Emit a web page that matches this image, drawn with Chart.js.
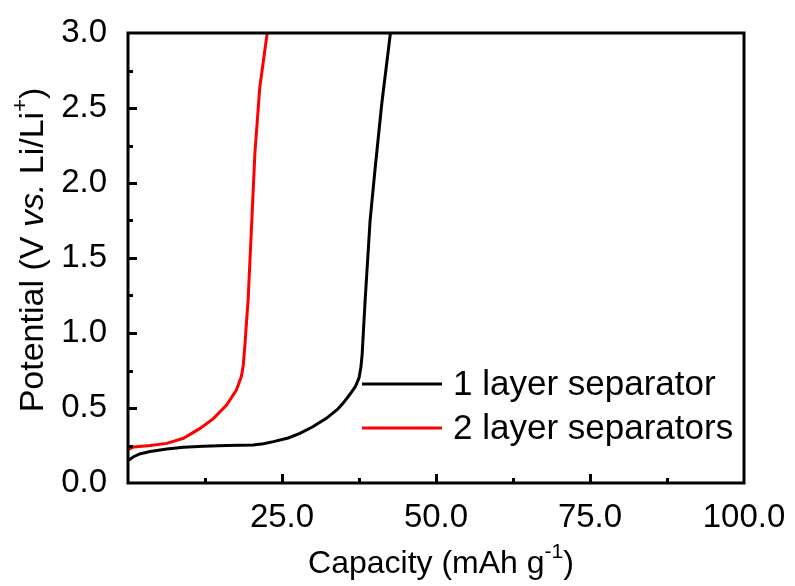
<!DOCTYPE html>
<html>
<head>
<meta charset="utf-8">
<script src="https://cdn.jsdelivr.net/npm/chart.js@4.4.1/dist/chart.umd.min.js"></script>
<style>
  html, body { margin: 0; padding: 0; background: #fff; }
  #wrap { width: 795px; height: 586px; position: relative; }
</style>
</head>
<body>
<div id="wrap"><canvas id="grafico"></canvas></div>
<script>
// datos: capacidad (mAh/g) y potencial (V)
const capacidad1 = [0, 0.9, 2, 3.6, 6.3, 9, 12.2, 16, 20.3, 22, 23.6, 26, 27.9, 30, 32.2, 34, 34.9, 36, 36.9, 37.5, 37.8, 38, 38.2, 38.5, 39.3, 40.1, 41.2, 42.6];
const potencial1 = [0.15, 0.175, 0.195, 0.21, 0.227, 0.238, 0.245, 0.25, 0.253, 0.262, 0.276, 0.3, 0.331, 0.375, 0.431, 0.49, 0.531, 0.59, 0.642, 0.7, 0.77, 0.85, 1.0, 1.22, 1.75, 2.09, 2.53, 3.0];

const capacidad2 = [0, 0.9, 3.6, 6.3, 9, 11.7, 13.9, 16, 17.6, 18.4, 18.7, 19, 19.3, 19.5, 20.1, 20.6, 21.4, 22.6];
const potencial2 = [0.225, 0.24, 0.25, 0.264, 0.298, 0.364, 0.431, 0.52, 0.62, 0.71, 0.78, 0.93, 1.11, 1.22, 1.75, 2.2, 2.64, 3.0];

const etiquetas = ["1 layer separator", "2 layer separators"];
const colores = ["#000000", "#ff0000"];

const xTicks = [25, 50, 75, 100];
const yTicks = [0, 0.5, 1.0, 1.5, 2.0, 2.5, 3.0];

const FONT = "'Liberation Sans', Arial, sans-serif";

function puntos(xs, ys) {
    return xs.map((x, i) => ({ x, y: ys[i] }));
}

// marco, ticks hacia adentro, titulos y leyenda
const decoracion = {
    id: "decoracion",
    afterDraw(chart) {
        const ctx = chart.ctx;
        const a = chart.chartArea;
        const sx = chart.scales.x;
        const sy = chart.scales.y;
        ctx.save();
        ctx.strokeStyle = "#000";
        ctx.lineWidth = 3;
        ctx.strokeRect(a.left, a.top, a.right - a.left, a.bottom - a.top);

        // ticks en eje x
        for (let v = 12.5; v < 100; v += 12.5) {
            const px = Math.round(sx.getPixelForValue(v)) + 0.5;
            const len = (v % 25 === 0) ? 9 : 5;
            ctx.beginPath();
            ctx.moveTo(px, a.bottom);
            ctx.lineTo(px, a.bottom - len);
            ctx.stroke();
        }
        // ticks en eje y
        for (let v = 0.25; v < 3; v += 0.25) {
            const py = Math.round(sy.getPixelForValue(v)) + 0.5;
            const len = (Math.abs(v * 2 - Math.round(v * 2)) < 1e-6) ? 9 : 5;
            ctx.beginPath();
            ctx.moveTo(a.left, py);
            ctx.lineTo(a.left + len, py);
            ctx.stroke();
        }

        // leyenda
        chart.data.datasets.forEach((ds, i) => {
            const y = 384 + i * 44;
            ctx.strokeStyle = ds.borderColor;
            ctx.lineWidth = 3;
            ctx.beginPath();
            ctx.moveTo(362, y);
            ctx.lineTo(442, y);
            ctx.stroke();
            ctx.fillStyle = "#000";
            ctx.font = "35px " + FONT;
            ctx.textBaseline = "middle";
            ctx.textAlign = "left";
            ctx.fillText(ds.label, 453, y + 1);
        });

        // titulo eje x
        ctx.fillStyle = "#000";
        ctx.textBaseline = "alphabetic";
        const partesX = [
            { t: "Capacity (mAh g", f: "32px " + FONT, dy: 0 },
            { t: "-1", f: "21px " + FONT, dy: -15 },
            { t: ")", f: "32px " + FONT, dy: 0 }
        ];
        dibujarPartes(ctx, partesX, 441, 573);

        // titulo eje y
        ctx.save();
        ctx.translate(43, 250);
        ctx.rotate(-Math.PI / 2);
        const partesY = [
            { t: "Potential (V ", f: "34px " + FONT, dy: 0 },
            { t: "vs.", f: "italic 34px " + FONT, dy: 0 },
            { t: " Li/Li", f: "34px " + FONT, dy: 0 },
            { t: "+", f: "22px " + FONT, dy: -16 },
            { t: ")", f: "34px " + FONT, dy: 0 }
        ];
        dibujarPartes(ctx, partesY, 0, 0);
        ctx.restore();

        ctx.restore();
    }
};

function dibujarPartes(ctx, partes, cx, baseY) {
    let total = 0;
    partes.forEach(p => { ctx.font = p.f; total += ctx.measureText(p.t).width; });
    let x = cx - total / 2;
    ctx.textAlign = "left";
    partes.forEach(p => {
        ctx.font = p.f;
        ctx.fillText(p.t, x, baseY + p.dy);
        x += ctx.measureText(p.t).width;
    });
}

new Chart(document.getElementById("grafico"), {
    type: "scatter",
    data: {
        datasets: [
            {
                label: etiquetas[0],
                data: puntos(capacidad1, potencial1),
                borderColor: colores[0],
                borderWidth: 3,
                showLine: true,
                pointRadius: 0
            },
            {
                label: etiquetas[1],
                data: puntos(capacidad2, potencial2),
                borderColor: colores[1],
                borderWidth: 3,
                showLine: true,
                pointRadius: 0
            }
        ]
    },
    options: {
        responsive: true,
        maintainAspectRatio: false,
        animation: false,
        layout: { padding: { top: 33, right: 51, left: 0, bottom: 0 } },
        plugins: { legend: { display: false }, tooltip: { enabled: false } },
        scales: {
            x: {
                type: "linear",
                min: 0,
                max: 100,
                afterBuildTicks: s => { s.ticks = xTicks.map(v => ({ value: v })); },
                afterFit: s => { s.height = 103; },
                grid: { display: false },
                border: { display: false },
                ticks: {
                    color: "#000",
                    font: { family: FONT, size: 33 },
                    padding: 7,
                    maxRotation: 0,
                    callback: v => v.toFixed(1)
                }
            },
            y: {
                type: "linear",
                min: 0,
                max: 3,
                afterBuildTicks: s => { s.ticks = yTicks.map(v => ({ value: v })); },
                afterFit: s => { s.width = 128; },
                grid: { display: false },
                border: { display: false },
                ticks: {
                    color: "#000",
                    font: { family: FONT, size: 33 },
                    padding: 13,
                    callback: v => v.toFixed(1)
                }
            }
        }
    },
    plugins: [decoracion]
});
</script>
</body>
</html>
